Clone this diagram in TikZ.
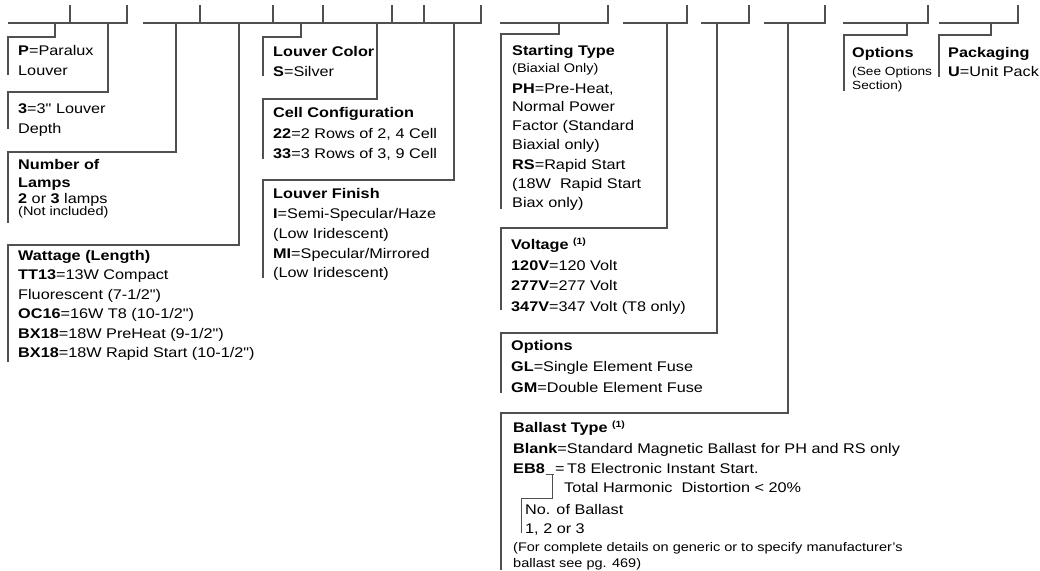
\documentclass[tikz,border=0pt]{standalone}
\usepackage{fontspec}
\setmainfont{Liberation Sans}[FakeStretch=1.16,Ligatures=TeXOff]
\usetikzlibrary{calc}
\definecolor{lncol}{HTML}{505050}
\newcommand\bkt[5]{%
  \coordinate (#1d) at (#2,23);
  \coordinate (#1t) at (#3,#4);
  \coordinate (#1b) at (#3,#5);
  \draw[conn] (#1d) |- (#1t) -- (#1b);}
\begin{document}
\begin{tikzpicture}[x=1pt,y=-1pt,
  conn/.style={draw=lncol,line width=1.1pt},
  barline/.style={draw=lncol,line width=1.1pt},
  lbl/.style={anchor=base west,inner sep=0pt,font=\fontsize{14}{16}\selectfont},
  sm/.style={anchor=base west,inner sep=0pt,font=\fontsize{12.5}{14}\selectfont},
  smn/.style={anchor=base west,inner sep=0pt,font=\fontsize{11.8}{14}\selectfont}]
\useasboundingbox (0,0) rectangle (1040,570);
% top bars
\draw[barline] (8,23) -- (127,23) -- (127,5);
\draw[barline] (70,23) -- (70,5);
\draw[barline] (143,23) -- (481,23) -- (481,5);
\foreach \t in {200,273,323,392,424} \draw[barline] (\t,23) -- (\t,5);
\draw[barline] (500,23) -- (608,23) -- (608,5);
\draw[barline] (623,23) -- (687,23) -- (687,5);
\draw[barline] (701,23) -- (749,23) -- (749,5);
\draw[barline] (764,23) -- (825,23) -- (825,5);
\draw[barline] (843,23) -- (928,23) -- (928,5);
\draw[barline] (939,23) -- (1018,23) -- (1018,5);
% brackets
\bkt{P}{55}{8}{37}{75}
\bkt{D}{108}{8}{92}{129}
\bkt{N}{176}{8}{152}{223}
\bkt{W}{239}{8}{245}{362}
\bkt{LC}{301}{263}{37}{76}
\bkt{CC}{377}{263}{99}{159}
\bkt{LF}{454}{263}{180}{278}
\bkt{ST}{559}{501}{34}{209}
\bkt{V}{667}{501}{228}{310}
\bkt{O}{717}{501}{333}{393}
\bkt{B}{788}{501}{413}{570}
\bkt{OS}{907}{844}{35}{91}
\bkt{PK}{991}{939}{35}{77}
% Paralux
\node[lbl] (p1) at (18,55) {\textbf{P}=Paralux};
\node[lbl] (p2) at (18,75) {Louver};
% depth
\node[lbl] (d1) at (18,113) {\textbf{3}=3" Louver};
\node[lbl] (d2) at (18,133) {Depth};
% lamps
\node[lbl] (n1) at (18,169) {\textbf{Number of}};
\node[lbl] (n2) at (18,187) {\textbf{Lamps}};
\node[lbl] (n3) at (18,203) {\textbf{2} or \textbf{3} lamps};
\node[sm] (n4) at (18,215) {(Not included)};
% wattage
\node[lbl] (w1) at (18,260) {\textbf{Wattage (Length)}};
\node[lbl] (w2) at (18,279) {\textbf{TT13}=13W Compact};
\node[lbl] (w3) at (18,299) {Fluorescent (7-1/2")};
\node[lbl] (w4) at (18,318) {\textbf{OC16}=16W T8 (10-1/2")};
\node[lbl] (w5) at (18,338) {\textbf{BX18}=18W PreHeat (9-1/2")};
\node[lbl] (w6) at (18,357) {\textbf{BX18}=18W Rapid Start (10-1/2")};
% louver color
\node[lbl] (lc1) at (273,56) {\textbf{Louver Color}};
\node[lbl] (lc2) at (273,76) {\textbf{S}=Silver};
% cell config
\node[lbl] (cc1) at (273,117) {\textbf{Cell Configuration}};
\node[lbl] (cc2) at (273,138) {\textbf{22}=2 Rows of 2, 4 Cell};
\node[lbl] (cc3) at (273,158) {\textbf{33}=3 Rows of 3, 9 Cell};
% louver finish
\node[lbl] (lf1) at (273,198) {\textbf{Louver Finish}};
\node[lbl] (lf2) at (273,218) {\textbf{I}=Semi-Specular/Haze};
\node[lbl] (lf3) at (273,238) {(Low Iridescent)};
\node[lbl] (lf4) at (273,258) {\textbf{MI}=Specular/Mirrored};
\node[lbl] (lf5) at (273,277) {(Low Iridescent)};
% starting type
\node[lbl] (st1) at (512,55) {\textbf{Starting Type}};
\node[sm] (st2) at (512,72) {(Biaxial Only)};
\node[lbl] (st3) at (512,93) {\textbf{PH}=Pre-Heat,};
\node[lbl] (st4) at (512,111) {Normal Power};
\node[lbl] (st5) at (512,130) {Factor (Standard};
\node[lbl] (st6) at (512,149) {Biaxial only)};
\node[lbl] (st7) at (512,169) {\textbf{RS}=Rapid Start};
\node[lbl] (st8) at (512,188) {(18W~ Rapid Start};
\node[lbl] (st9) at (512,207) {Biax only)};
% voltage
\node[lbl] (v1) at (511,249) {\textbf{Voltage} {\fontsize{9}{10}\selectfont\raisebox{5pt}{\textbf{(1)}}}};
\node[lbl] (v2) at (511,270) {\textbf{120V}=120 Volt};
\node[lbl] (v3) at (511,290) {\textbf{277V}=277 Volt};
\node[lbl] (v4) at (511,311) {\textbf{347V}=347 Volt (T8 only)};
% options
\node[lbl] (o1) at (511,350) {\textbf{Options}};
\node[lbl] (o2) at (511,371) {\textbf{GL}=Single Element Fuse};
\node[lbl] (o3) at (511,392) {\textbf{GM}=Double Element Fuse};
% ballast
\node[lbl] (b1) at (513,432) {\textbf{Ballast Type} {\fontsize{9}{10}\selectfont\raisebox{5pt}{\textbf{(1)}}}};
\node[lbl] (b2) at (513,453) {\textbf{Blank}=Standard Magnetic Ballast for PH and RS only};
\node[lbl] (eb) at (513,473) {\textbf{EB8}};
\node[lbl] (b3) at (555,473) {=\hspace{2.5pt}T8 Electronic Instant Start.};
\node[lbl] (b4) at (564,492) {Total Harmonic~ Distortion < 20\%};
\coordinate (u1) at ($(eb.base east)+(0.5,1.5)$);
\coordinate (u2) at ($(eb.base east)+(8.5,1.5)$);
\coordinate (uc) at ($(eb.base east)+(7.5,1.5)$);
\coordinate (nbt) at (521,498);
\coordinate (nbb) at (521,533);
\draw[conn,line width=0.9pt] (u1) -- (u2);
\draw[conn,line width=0.9pt] (uc) |- (nbt) -- (nbb);
\node[lbl] (b5) at (525,514) {No. of Ballast};
\node[lbl] (b6) at (525,533) {1, 2 or 3};
\node[sm] (b7) at (513,551) {(For complete details on generic or to specify manufacturer’s};
\node[sm] (b8) at (513,567) {ballast see pg. 469)};
% options section
\node[lbl] (os1) at (852,57) {\textbf{Options}};
\node[smn] (os2) at (852,75) {(See Options};
\node[smn] (os3) at (852,89) {Section)};
% packaging
\node[lbl] (pk1) at (948,57) {\textbf{Packaging}};
\node[lbl] (pk2) at (948,76) {\textbf{U}=Unit Pack};
\end{tikzpicture}
\end{document}
